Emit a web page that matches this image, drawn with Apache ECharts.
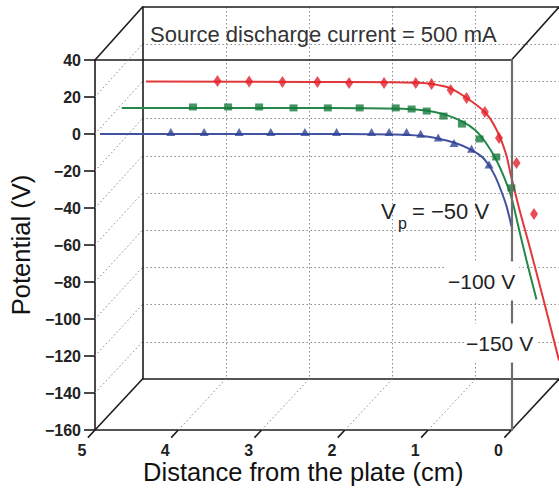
<!DOCTYPE html>
<html>
<head>
<meta charset="utf-8">
<script src="https://cdn.jsdelivr.net/npm/echarts@6/dist/echarts.min.js"></script>
<style>
html,body{margin:0;padding:0;background:#ffffff;}
#c{width:559px;height:490px;}
</style>
</head>
<body>
<div id="c"></div>
<script>
// ---------- data (distance from plate in cm, potential in V) ----------
const distanceTicks = [5, 4, 3, 2, 1, 0];
const potentialTicks = [40, 20, 0, -20, -40, -60, -80, -100, -120, -140, -160];

const titleText = 'Source discharge current = 500 mA';
const xName = 'Distance from the plate (cm)';
const yName = 'Potential (V)';

// Vp = -50 V (blue, front plane)
const blueFit = [[4.94,0],[3,0],[2,0],[1.4,-0.3],[1.09,-1],[0.88,-2.5],[0.69,-4.6],[0.49,-8.4],[0.35,-12.5],[0.27,-17],[0.2,-22.5],[0.13,-30],[0.06,-39],[0,-50]];
const bluePts = [[4.09,0],[3.69,0],[3.27,0],[2.89,0],[2.48,0],[2.10,0],[1.68,0],[1.47,0],[1.26,0],[1.09,-1],[0.88,-3],[0.69,-6],[0.48,-9],[0.27,-17.5]];

// Vp = -100 V (green, middle plane)
const greenFit = [[4.95,0],[3,0],[2.5,0],[1.6,-0.5],[1.3,-1.5],[1.1,-3.5],[0.9,-7],[0.73,-12],[0.6,-19],[0.48,-28],[0.38,-38],[0.3,-48],[0.21,-65],[0.13,-80],[0,-103]];
const greenPts = [[4.10,0.5],[3.68,0.5],[3.31,0.5],[2.90,0],[2.49,0],[2.11,0],[1.68,0],[1.49,-0.6],[1.31,-1.7],[1.11,-4.4],[0.89,-8.7],[0.68,-16.7],[0.48,-26.4],[0.30,-43]];

// Vp = -150 V (red, back plane)
const redFit = [[4.96,0],[3,-0.3],[2,-0.5],[1.6,-1],[1.45,-2],[1.29,-4],[1.09,-9.5],[0.88,-17],[0.75,-26],[0.64,-38.5],[0.58,-50],[0.48,-68],[0.37,-86],[0.2,-115],[0,-150]];
const redPts = [[4.10,0.2],[3.72,0],[3.32,-0.3],[2.90,-0.3],[2.52,-0.9],[2.10,-0.9],[1.72,-0.9],[1.53,-1.4],[1.30,-4.6],[1.11,-8.9],[0.89,-16.5],[0.72,-30.4],[0.51,-43.9],[0.30,-71.3]];

const vpLabels = ['\u221250 V', '\u2212100 V', '\u2212150 V'];

// ---------- styling ----------
const FONT = 'Liberation Sans';
const EDGE = '#1c1c1c';
const DOT = '#8c8c8c';
const RED = '#e2383a', GREEN = '#25884a', BLUE = '#43529f';
const gridW = 419, gridH = 372;
const dMin = Math.min(...distanceTicks), dMax = Math.max(...distanceTicks);
const vMin = Math.min(...potentialTicks), vMax = Math.max(...potentialTicks);

function xAxisDef(gi, pos, extra) {
  return Object.assign({
    type: 'value', gridIndex: gi, position: pos, min: dMin, max: dMax, interval: 1, inverse: true,
    axisLine: {show: false}, axisTick: {show: false}, axisLabel: {show: false}, splitLine: {show: false}
  }, extra || {});
}
function yAxisDef(gi, pos, extra) {
  return Object.assign({
    type: 'value', gridIndex: gi, position: pos, min: vMin, max: vMax, interval: 20,
    axisLine: {show: false}, axisTick: {show: false}, axisLabel: {show: false}, splitLine: {show: false}
  }, extra || {});
}
const edgeLine = {show: true, onZero: false, lineStyle: {color: EDGE, width: 1.6}};

const chart = echarts.init(document.getElementById('c'), null, {renderer: 'svg'});

chart.setOption({
  animation: false,
  backgroundColor: '#ffffff',
  title: {
    text: titleText, left: 150, top: 23, padding: 0,
    textStyle: {fontFamily: FONT, fontSize: 22, fontWeight: 'normal', color: '#333'}
  },
  grid: [
    {left: 92.5, top: 60, width: gridW, height: gridH},
    {left: 117.5, top: 33.5, width: gridW, height: gridH},
    {left: 142.5, top: 7, width: gridW, height: gridH}
  ],
  xAxis: [
    xAxisDef(0, 'bottom', {
      axisLine: edgeLine,
      name: xName, nameLocation: 'middle', nameGap: 29,
      nameTextStyle: {fontFamily: FONT, fontSize: 25.5, color: '#111'}
    }),
    xAxisDef(0, 'top', {axisLine: edgeLine}),
    xAxisDef(1, 'bottom', {show: false}),
    xAxisDef(2, 'bottom', {
      axisLine: edgeLine,
      splitLine: {show: true, showMinLine: false, showMaxLine: false, lineStyle: {color: DOT, type: [1.5, 2.5], width: 1}}
    }),
    xAxisDef(2, 'top', {axisLine: edgeLine})
  ],
  yAxis: [
    yAxisDef(0, 'left', {
      axisLine: edgeLine,
      axisTick: {show: true, inside: false, length: 11, lineStyle: {color: EDGE, width: 1.6}},
      name: yName, nameLocation: 'middle', nameGap: 61,
      nameTextStyle: {fontFamily: FONT, fontSize: 25.5, color: '#111'}
    }),
    yAxisDef(0, 'right', {z: 6, axisLine: {show: true, onZero: false, lineStyle: {color: '#6e6e6e', width: 2.2}}}),
    yAxisDef(1, 'left', {show: false}),
    yAxisDef(2, 'left', {
      axisLine: edgeLine,
      splitLine: {show: true, showMinLine: false, showMaxLine: false, lineStyle: {color: DOT, type: [1.5, 2.5], width: 1}}
    })
  ],
  series: [
    {type: 'line', name: 'red fit', xAxisIndex: 3, yAxisIndex: 3, data: redFit, showSymbol: false, symbol: 'none',
     smooth: 0.35, lineStyle: {color: RED, width: 2}, z: 2},
    {type: 'line', name: 'green fit', xAxisIndex: 2, yAxisIndex: 2, data: greenFit, showSymbol: false, symbol: 'none',
     smooth: 0.35, lineStyle: {color: GREEN, width: 2}, z: 2},
    {type: 'line', name: 'blue fit', xAxisIndex: 0, yAxisIndex: 0, data: blueFit, showSymbol: false, symbol: 'none',
     smooth: 0.35, lineStyle: {color: BLUE, width: 2}, z: 2},
    {type: 'scatter', name: 'red data', xAxisIndex: 3, yAxisIndex: 3, data: redPts, symbol: 'diamond',
     symbolSize: [8, 12], itemStyle: {color: '#e4202c'}, z: 3},
    {type: 'scatter', name: 'green data', xAxisIndex: 2, yAxisIndex: 2, data: greenPts, symbol: 'rect',
     symbolSize: [8, 7], itemStyle: {color: '#17793c'}, z: 3},
    {type: 'scatter', name: 'blue data', xAxisIndex: 0, yAxisIndex: 0, data: bluePts, symbol: 'triangle',
     symbolSize: [9, 8], symbolOffset: [0, -2], itemStyle: {color: '#2f4396'}, z: 3}
  ]
});

// ---------- box wireframe and tick labels, derived from the axes' own scales ----------
const P = (plane, d, v) => {
  const idx = plane === 0 ? 0 : (plane === 1 ? 2 : 3);
  return chart.convertToPixel({xAxisIndex: idx, yAxisIndex: idx}, [d, v]);
};
const g = [];
function seg(a, b, style, z) {
  g.push({type: 'line', silent: true, z: z || 1,
    shape: {x1: a[0], y1: a[1], x2: b[0], y2: b[1]}, style: style});
}
const solid = {stroke: EDGE, lineWidth: 1.6};
const dotted = {stroke: DOT, lineWidth: 1, lineDash: [1.5, 2.5]};

const txt = (text, x, y, size, extra) => ({
  type: 'text', silent: true, z: 20, x: x, y: y,
  style: Object.assign({text: text, fontFamily: FONT, fontSize: size, fill: '#222', verticalAlign: 'middle', align: 'left'}, extra || {})
});

// connectors front -> back
[[dMax, vMax], [dMax, vMin], [dMin, vMax], [dMin, vMin]].forEach(([d, v]) => seg(P(0, d, v), P(2, d, v), solid, 1));
// left side face dotted grid
potentialTicks.filter(v => v > vMin && v < vMax).forEach(v => seg(P(0, dMax, v), P(2, dMax, v), dotted, 0));
// floor dotted grid
distanceTicks.filter(d => d > dMin && d < dMax).forEach(d => seg(P(0, d, vMin), P(2, d, vMin), dotted, 0));
// diagonal tick marks on the front bottom edge + distance labels
distanceTicks.forEach(d => {
  const f = P(0, d, vMin), b = P(2, d, vMin);
  const t = [f[0] - 0.15 * (b[0] - f[0]), f[1] - 0.15 * (b[1] - f[1])];
  seg(f, t, solid, 1);
  g.push(txt(String(d), f[0] - 13, f[1] + 20, 16, {align: 'center', fontWeight: 'bold'}));
});
// potential tick labels
potentialTicks.forEach(v => {
  const p = P(0, dMax, v);
  g.push(txt(String(v).replace('-', '\u2212'), p[0] - 14, p[1], 16, {align: 'right', fontWeight: 'bold'}));
});

// ---------- Vp annotations ----------
g.push(txt('V', 381, 211, 22));
g.push(txt('p', 398, 223, 16));
g.push(txt('= ' + vpLabels[0], 412, 211, 22));
g.push(txt(vpLabels[1], 446, 281, 21, {backgroundColor: '#ffffff', padding: [9, 4, 9, 2]}));
g.push(txt(vpLabels[2], 464, 343, 21, {backgroundColor: '#ffffff', padding: [9, 4, 9, 2]}));

chart.setOption({graphic: g});
</script>
</body>
</html>
